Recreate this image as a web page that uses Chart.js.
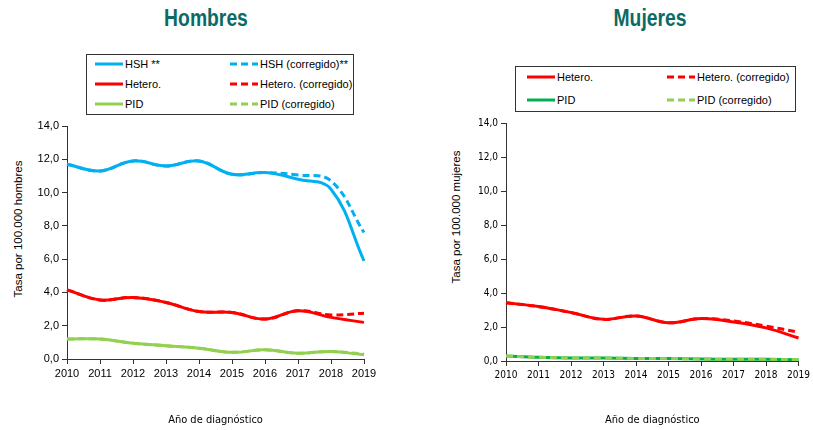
<!DOCTYPE html>
<html>
<head>
<meta charset="utf-8">
<script src="https://cdn.jsdelivr.net/npm/chart.js@4/dist/chart.umd.min.js"></script>
<style>
  body { margin: 0; width: 813px; height: 430px; background: #fff; position: relative; overflow: hidden; font-family: 'Liberation Sans', Arial, sans-serif; }
  .title { position: absolute; top: 5px; font-family: 'Liberation Sans', Arial, sans-serif; font-weight: bold; font-size: 23px; color: #0b6b64; transform: translateX(-50%) scaleX(0.84); }
  .legend { position: absolute; border: 1px solid #333; background: #fff; box-sizing: border-box; }
  .item { position: absolute; display: flex; align-items: center; font-size: 11px; color: #000; white-space: nowrap; }
  .item svg { margin-right: 2px; }
  .ytitle { position: absolute; font-size: 11.5px; color: #000; white-space: nowrap; transform: translate(-50%, -50%) rotate(-90deg); }
  canvas { position: absolute; }
</style>
</head>
<body>
<div class="title" style="left:206px">Hombres</div>
<div class="title" style="left:650px">Mujeres</div>
<div id="legM" class="legend" style="left:86px; top:54px; width:268px; height:61px"></div>
<div id="legW" class="legend" style="left:515px; top:66px; width:281px; height:46px"></div>
<div class="ytitle" style="left:18px; top:229px">Tasa por 100.000 hombres</div>
<div class="ytitle" style="left:456px; top:217px">Tasa por 100.000 mujeres</div>
<canvas id="chartM" width="400" height="330" style="left:0; top:100px"></canvas>
<canvas id="chartW" width="393" height="330" style="left:420px; top:100px"></canvas>
<script>
// values (tasa por 100.000)
const years = ['2010', '2011', '2012', '2013', '2014', '2015', '2016', '2017', '2018', '2019'];

const hshM        = [11.7, 11.3, 11.9, 11.6, 11.9, 11.1, 11.2, 10.8, 10.2, 5.9];
const hshCorrM    = [11.7, 11.3, 11.9, 11.6, 11.9, 11.1, 11.2, 11.05, 10.7, 7.6];
const heteroM     = [4.15, 3.55, 3.7, 3.4, 2.85, 2.8, 2.4, 2.9, 2.5, 2.2];
const heteroCorrM = [4.15, 3.55, 3.7, 3.4, 2.85, 2.8, 2.4, 2.9, 2.65, 2.75];
const pidM        = [1.2, 1.2, 0.95, 0.8, 0.65, 0.4, 0.55, 0.35, 0.45, 0.25];
const pidCorrM    = [1.2, 1.2, 0.95, 0.8, 0.65, 0.4, 0.55, 0.35, 0.45, 0.3];

const heteroW     = [3.42, 3.2, 2.85, 2.45, 2.65, 2.25, 2.5, 2.3, 1.95, 1.35];
const heteroCorrW = [3.42, 3.2, 2.85, 2.45, 2.65, 2.25, 2.5, 2.35, 2.05, 1.7];
const pidW        = [0.3, 0.22, 0.18, 0.18, 0.15, 0.15, 0.12, 0.1, 0.1, 0.08];
const pidCorrW    = [0.3, 0.22, 0.18, 0.18, 0.15, 0.15, 0.12, 0.1, 0.1, 0.08];

const BLUE = '#00b0f0', RED = '#ff0000', LGREEN = '#92d050', DGREEN = '#00b050';
const DASH = [7, 4];

function series(label, data, color, dashed, order) {
    return {
        label: label,
        data: data,
        borderColor: color,
        backgroundColor: color,
        borderWidth: 3,
        borderDash: dashed ? DASH : [],
        pointRadius: 0,
        tension: 0.4,
        fill: false,
        order: order || 0
    };
}

function fmt(v) {
    return Number(v).toFixed(1).replace('.', ',');
}

// legend drawn as html, from the dataset list; cols = positions of the two columns
function buildLegend(el, datasets, rows, cols) {
    datasets.forEach((ds, i) => {
        const row = Math.floor(i / 2), col = i % 2;
        const item = document.createElement('div');
        item.className = 'item';
        item.style.left = cols[col] + 'px';
        item.style.top = (rows[row] - 7) + 'px';
        item.style.height = '14px';
        const dash = ds.borderDash.length ? ds.borderDash.join(' ') : 'none';
        item.innerHTML = '<svg width="28" height="4"><line x1="0" y1="2" x2="28" y2="2" stroke="' +
            ds.borderColor + '" stroke-width="3" stroke-dasharray="' + dash + '"/></svg>' +
            '<span>' + ds.label + '</span>';
        el.appendChild(item);
    });
}

function makeChart(id, datasets, opts) {
    const ctx = document.getElementById(id).getContext('2d');
    return new Chart(ctx, {
        type: 'line',
        data: { labels: years, datasets: datasets },
        options: {
            responsive: false,
            animation: false,
            layout: { padding: opts.padding },
            plugins: { legend: { display: false }, tooltip: { enabled: false } },
            scales: {
                x: {
                    afterFit: s => { s.height = opts.xHeight; },
                    grid: { drawOnChartArea: false, drawTicks: true, tickLength: 5, color: '#333' },
                    border: { display: true, color: '#333', width: 1 },
                    ticks: { autoSkip: false, maxRotation: 0, color: '#000', padding: 3, font: opts.tickFont },
                    title: { display: true, text: 'Año de diagnóstico', color: '#000', padding: 3,
                             font: { family: "'DejaVu Sans Condensed', 'DejaVu Sans', sans-serif", size: 11 } }
                },
                y: {
                    min: 0,
                    max: 14,
                    afterFit: s => { s.width = opts.yWidth; },
                    grid: { drawOnChartArea: false, drawTicks: true, tickLength: 5, color: '#333' },
                    border: { display: true, color: '#333', width: 1 },
                    ticks: { stepSize: 2, color: '#000', padding: 3, font: opts.tickFont, callback: v => fmt(v) }
                }
            }
        }
    });
}

const dsM = [
    series('HSH **', hshM, BLUE, false),
    series('HSH (corregido)**', hshCorrM, BLUE, true),
    series('Hetero.', heteroM, RED, false),
    series('Hetero. (corregido)', heteroCorrM, RED, true),
    series('PID', pidM, LGREEN, false),
    series('PID (corregido)', pidCorrM, LGREEN, true)
];

const dsW = [
    series('Hetero.', heteroW, RED, false),
    series('Hetero. (corregido)', heteroCorrW, RED, true),
    series('PID', pidW, DGREEN, false),
    series('PID (corregido)', pidCorrW, LGREEN, true, -1)
];

buildLegend(document.getElementById('legM'), dsM, [9, 29, 49], [8, 143]);
buildLegend(document.getElementById('legW'), dsW, [10, 33], [11, 151]);

makeChart('chartM', dsM, {
    padding: { top: 26, right: 36, left: 0, bottom: 0 },
    xHeight: 71,
    yWidth: 67,
    tickFont: { family: "'Liberation Sans', Arial, sans-serif", size: 11 }
});

makeChart('chartW', dsW, {
    padding: { top: 23, right: 12, left: 0, bottom: 0 },
    xHeight: 69,
    yWidth: 86,
    tickFont: { family: "'DejaVu Sans Condensed', 'DejaVu Sans', sans-serif", size: 10 }
});
</script>
</body>
</html>
